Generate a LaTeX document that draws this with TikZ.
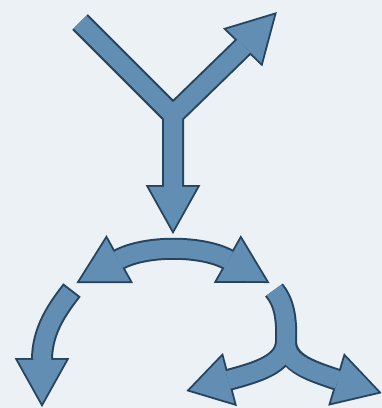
\documentclass[tikz,border=0pt]{standalone}
\usetikzlibrary{calc}
\definecolor{arrowfill}{RGB}{98,142,180}
\definecolor{arrowedge}{RGB}{38,68,94}
\definecolor{paper}{RGB}{236,241,245}
\tikzset{
  shaft/.style 2 args={draw=#1, line width=#2pt},
  head/.style 2 args={fill=#1, draw=#1, line width=#2pt, line join=miter},
}
% block arrow head: base centre #2, tip #3
\newcommand{\arrowhd}[3]{\filldraw[#1] ($(#2)!24pt!90:(#3)$) -- (#3) -- ($(#2)!24pt!-90:(#3)$) -- cycle;}

\begin{document}
\begin{tikzpicture}[x=1pt,y=-1pt]
  \fill[paper] (0,0) rectangle (382,408);
  \useasboundingbox (0,0) rectangle (382,408);
  % Y on top
  \coordinate (yl) at (80,22);
  \coordinate (yc) at (173,115);
  \coordinate (yrb) at (244,46);   \coordinate (yrt) at (274,15);
  \coordinate (ydb) at (173,187);  \coordinate (ydt) at (173,230);
  % arc in the middle
  \coordinate (alb) at (118,260);  \coordinate (alt) at (80,281);
  \coordinate (arb) at (229,260);  \coordinate (art) at (266,281);
  % lower left
  \coordinate (ls) at (72,290);
  \coordinate (lb) at (42,360);    \coordinate (lt) at (42,403);
  % lower right, splitting
  \coordinate (rs) at (274,290);
  \coordinate (rj) at (286,342);
  \coordinate (rlb) at (228,380);  \coordinate (rlt) at (190,390);
  \coordinate (rrb) at (338,380);  \coordinate (rrt) at (378,392);
  % outline first, then the fill on top
  \foreach \col/\w/\hw/\s in {arrowedge/22/4/0, arrowfill/18/0.1/2}{
    \draw[shaft={\col}{\w}, shorten <=\s pt] (yl) -- (yc) -- (yrb) (yc) -- (ydb);
    \draw[shaft={\col}{\w}] (alb) .. controls (145,245) and (202,245) .. (arb);
    \draw[shaft={\col}{\w}, shorten <=\s pt] (ls) .. controls (58,308) and (42,330) .. (lb);
    \draw[shaft={\col}{\w}, shorten <=\s pt] (rs) .. controls (284,302) and (287,318) .. (rj)
      .. controls (285,364) and (258,372) .. (rlb)
      (rj) .. controls (287,364) and (312,371) .. (rrb);
    \arrowhd{head={\col}{\hw}}{yrb}{yrt}
    \arrowhd{head={\col}{\hw}}{ydb}{ydt}
    \arrowhd{head={\col}{\hw}}{alb}{alt}
    \arrowhd{head={\col}{\hw}}{arb}{art}
    \arrowhd{head={\col}{\hw}}{lb}{lt}
    \arrowhd{head={\col}{\hw}}{rlb}{rlt}
    \arrowhd{head={\col}{\hw}}{rrb}{rrt}
  }
\end{tikzpicture}
\end{document}
